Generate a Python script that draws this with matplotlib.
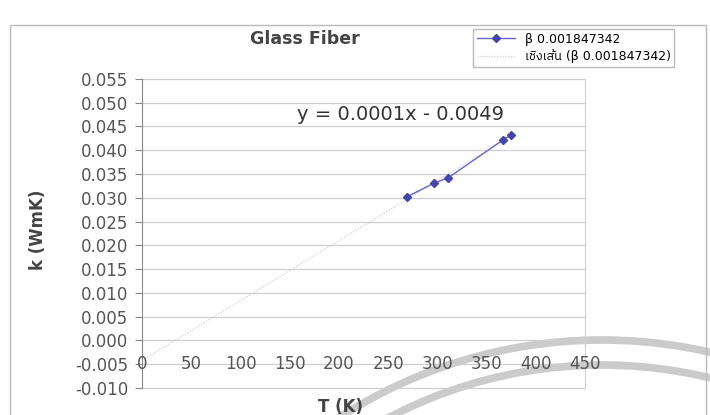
import matplotlib
matplotlib.use("Agg")
import matplotlib.pyplot as plt
import numpy as np
from matplotlib import font_manager
from matplotlib.patches import Arc

T = [269, 297, 311, 367, 375]
k = [0.0302, 0.0331, 0.0342, 0.0422, 0.0432]
x_ticks = [0, 50, 100, 150, 200, 250, 300, 350, 400, 450]
y_ticks = [-0.010, -0.005, 0.000, 0.005, 0.010, 0.015, 0.020, 0.025, 0.030, 0.035, 0.040, 0.045, 0.050, 0.055]
series_name = "β 0.001847342"
trend_name = "เชิงเส้น (β 0.001847342)"
equation = "y = 0.0001x - 0.0049"

names = sorted({f.name for f in font_manager.fontManager.ttflist})
thai = [n for n in names if "Thai" in n]
fam = ['DejaVu Sans'] + thai

W, H = 710, 415
fig = plt.figure(figsize=(7.1, 4.15), dpi=100)

# scan watermark arcs (decorative)
for r in (484, 459):
    fig.patches.append(Arc((602 / W, -409 / H), 2 * r / W, 2 * r / H, theta1=20, theta2=160,
                           transform=fig.transFigure, color="#cbcbcb", lw=5.5, zorder=-1))

ax = fig.add_axes([0.2, 0.065, 0.624, 0.745])
ax.set_facecolor("none")
ax.set_xlim(0, 450)
ax.set_ylim(-0.010, 0.055)
ax.set_yticks(y_ticks)
ax.set_yticklabels([f"{v:.3f}" for v in y_ticks], fontsize=12, color="#555555")
ax.set_xticks(x_ticks)
ax.set_xticklabels([])
ax.tick_params(axis='x', length=0)
ax.tick_params(axis='y', length=5, color="#888888", pad=5)
for v in y_ticks:
    ax.axhline(v, color="#cfcfcf", lw=0.9, zorder=0, clip_on=False)
for s in ["top", "bottom"]:
    ax.spines[s].set_visible(False)
ax.spines["left"].set_color("#888888")
ax.spines["right"].set_color("#d0d0d0")
# x tick labels drawn on the -0.005 level (Excel axis crossing)
for xv in x_ticks:
    ax.text(xv, -0.005, str(xv), ha="center", va="center", fontsize=12, color="#555555")

# trendline
m, b = np.polyfit(T, k, 1)
xt = np.array([0, max(T)])
ax.plot(xt, m * xt + b, color="#d8d8d8", lw=1.0, ls=(0, (1, 1)), zorder=1, label=trend_name)
ax.plot(T, k, color="#6666cc", lw=1.0, marker="D", ms=4.5, mfc="#4444aa", mec="#4444aa", zorder=3, label=series_name)

ax.text(263, 0.0475, equation, ha="center", va="center", fontsize=14, color="#333333")
fig.text(0.43, 0.905, "Glass Fiber", ha="center", va="center", fontsize=12.5, fontweight="bold", color="#444444")
fig.text(0.053, 0.446, "k (WmK)", rotation=90, ha="center", va="center", fontsize=12, fontweight="bold", color="#444444")
fig.text(0.48, 0.02, "T (K)", ha="center", va="center", fontsize=12, fontweight="bold", color="#444444")

handles, labels = ax.get_legend_handles_labels()
leg = fig.legend(handles[::-1], labels[::-1], loc="upper left", bbox_to_anchor=(0.658, 0.945),
                 frameon=True, fancybox=False, edgecolor="#aaaaaa",
                 handlelength=3, borderpad=0.3, labelspacing=0.3, prop={'family': fam, 'size': 9})
# outer border
fig.patches.append(plt.Rectangle((0.014, -0.1), 0.98, 1.04, transform=fig.transFigure,
                                 fill=False, edgecolor="#bbbbbb", lw=1.0))
fig.savefig("out.png", dpi=100)
